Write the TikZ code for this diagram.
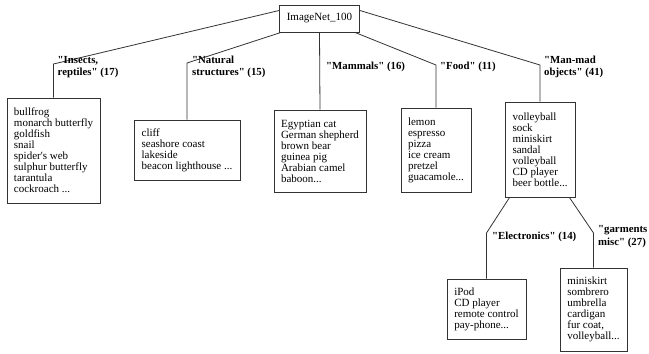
\documentclass[tikz,border=0pt]{standalone}
\usepackage{fontspec}
\setmainfont{Liberation Serif}[Ligatures=TeXOff]
\usetikzlibrary{calc}
\begin{document}
\begin{tikzpicture}[x=1pt,y=-1pt,
  box/.style={draw=black!80,line width=0.8pt,align=left,inner sep=0pt,
    font=\fontsize{11}{11}\selectfont},
  lab/.style={anchor=west,align=left,inner sep=0pt,
    font=\fontsize{10.8}{12.5}\selectfont\bfseries},
  conn/.style={draw=black!80,line width=0.8pt}]
\useasboundingbox (0,0) rectangle (649,354);
\node[box,minimum width=80pt,minimum height=27pt,align=center] (root) at (319.5,18.5) {ImageNet\_100};
\node[box,minimum width=93pt,minimum height=105pt] (ins) at (53.5,150.5)
  {bullfrog\\monarch butterfly\\goldfish\\snail\\spider's web\\sulphur butterfly\\tarantula\\cockroach ...};
\node[box,minimum width=106pt,minimum height=60pt] (nat) at (187,150)
  {cliff\\seashore coast\\lakeside\\beacon lighthouse ...};
\node[box,minimum width=92pt,minimum height=82pt] (mam) at (320,151)
  {Egyptian cat\\German shepherd\\brown bear\\guinea pig\\Arabian camel\\baboon...};
\node[box,minimum width=70pt,minimum height=84pt] (food) at (436,150)
  {lemon\\espresso\\pizza\\ice cream\\pretzel\\guacamole...};
\node[box,minimum width=70pt,minimum height=95pt] (man) at (540,149.5)
  {volleyball\\sock\\miniskirt\\sandal\\volleyball\\CD player\\beer bottle...};
\node[box,minimum width=79pt,minimum height=60pt] (ele) at (486.5,309)
  {iPod\\CD player\\remote control\\pay-phone...};
\node[box,minimum width=67pt,minimum height=83pt] (gar) at (593.5,309.5)
  {miniskirt\\sombrero\\umbrella\\cardigan\\fur coat,\\volleyball...};
\coordinate (b1) at (53.5,64);
\coordinate (b2) at (187,63);
\coordinate (b4) at (436,65);
\coordinate (b5) at (540,65);
\coordinate (b6) at (486.5,233);
\coordinate (b7) at (593.5,233);
\draw[conn] ([yshift=8pt]root.west) -- (b1) -- (b1 |- ins.north);
\draw[conn] ([xshift=2pt]root.south west) -- (b2) -- (b2 |- nat.north);
\draw[conn] (root.south) -- (mam.north);
\draw[conn] ([xshift=-5pt]root.south east) -- (b4) -- (b4 |- food.north);
\draw[conn] ([yshift=8pt]root.east) -- (b5) -- (b5 |- man.north);
\draw[conn] ([xshift=5pt]man.south west) -- (b6) -- (b6 |- ele.north);
\draw[conn] ([xshift=-6pt]man.south east) -- (b7) -- (b7 |- gar.north);
\node[lab] (l1) at (57.5,67) {"Insects,\\reptiles" (17)};
\node[lab] (l2) at (192,67) {"Natural\\structures" (15)};
\node[lab] (l3) at (326,67) {"Mammals" (16)};
\node[lab] (l4) at (440,67) {"Food" (11)};
\node[lab] (l5) at (544,67) {"Man-mad\\objects" (41)};
\node[lab] (l6) at (492,237) {"Electronics" (14)};
\node[lab] (l7) at (598,236.5) {"garments\\misc" (27)};
\end{tikzpicture}
\end{document}
